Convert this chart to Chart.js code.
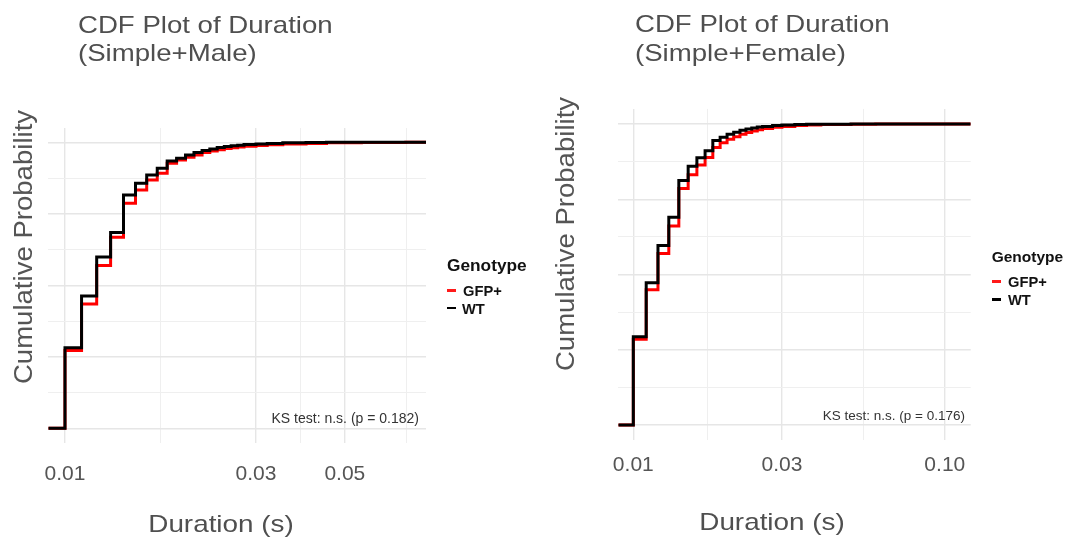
<!DOCTYPE html>
<html>
<head>
<meta charset="utf-8">
<title>CDF Plot of Duration</title>
<script src="https://cdn.jsdelivr.net/npm/chart.js@4.4.1/dist/chart.umd.min.js"></script>
<style>
  html, body { margin: 0; padding: 0; background: #fff; }
  body {
    width: 1067px; height: 538px; position: relative; overflow: hidden;
    font-family: "Liberation Sans", Arial, sans-serif;
  }
  canvas { position: absolute; top: 0; }
  .t { position: absolute; white-space: nowrap; line-height: 1; }

  .title {
    font-size: 24px; line-height: 28.4px; color: #4f4f4f;
    transform: scaleX(1.15); transform-origin: 0 0;
  }
  .ytitle {
    width: 400px; text-align: center; font-size: 26px; line-height: 26px; color: #555;
    transform: rotate(-90deg) scaleX(1.06); transform-origin: 50% 50%;
  }
  .xtitle {
    width: 300px; text-align: center; font-size: 24px; line-height: 24px; color: #4f4f4f;
    transform: scaleX(1.16); transform-origin: 50% 50%;
  }
  .ks { color: #333; text-align: right; }
  .lg-title { font-weight: bold; color: #111; transform-origin: 0 0; }
  .lg-item { font-weight: bold; font-size: 14px; color: #111; transform: scaleX(1.05); transform-origin: 0 0; }
  .key { position: absolute; height: 2.7px; width: 8.5px; }
</style>
</head>
<body>

<canvas id="maleChart" width="540" height="538" style="left:0"></canvas>
<canvas id="femaleChart" width="527" height="538" style="left:540px"></canvas>

<!-- panel titles -->
<div class="t title" style="left:78px;top:10.8px">CDF Plot of Duration<br>(Simple+Male)</div>
<div class="t title" style="left:635px;top:10.3px">CDF Plot of Duration<br>(Simple+Female)</div>

<!-- axis titles -->
<div class="t ytitle" style="left:-177px;top:234px">Cumulative Probability</div>
<div class="t ytitle" style="left:365px;top:221px">Cumulative Probability</div>
<div class="t xtitle" style="left:70.5px;top:512.2px">Duration (s)</div>
<div class="t xtitle" style="left:621.5px;top:509.7px">Duration (s)</div>

<!-- KS annotations -->
<div class="t ks" style="right:648px;top:410.6px;font-size:14px">KS test: n.s. (p = 0.182)</div>
<div class="t ks" style="right:102px;top:408.6px;font-size:13.5px">KS test: n.s. (p = 0.176)</div>

<!-- legends -->
<div class="t lg-title" style="left:446.7px;top:258px;font-size:16px;transform:scaleX(1.08)">Genotype</div>
<span class="key" style="left:447px;top:289.4px;background:#ff1a1a"></span>
<div class="t lg-item" style="left:462.7px;top:284px">GFP+</div>
<span class="key" style="left:447px;top:306.8px;background:#000"></span>
<div class="t lg-item" style="left:461.7px;top:301.6px">WT</div>

<div class="t lg-title" style="left:991.7px;top:248.9px;font-size:15.5px">Genotype</div>
<span class="key" style="left:992px;top:280px;background:#ff1a1a"></span>
<div class="t lg-item" style="left:1008.3px;top:274.9px">GFP+</div>
<span class="key" style="left:992px;top:298.2px;background:#000"></span>
<div class="t lg-item" style="left:1008px;top:293.1px">WT</div>

<script>
  // ── Data: durations (s) and ECDF value after each step ─────
  const maleDuration = [0.010, 0.011, 0.012, 0.013, 0.014, 0.015, 0.016, 0.017, 0.018, 0.019,
                        0.020, 0.021, 0.022, 0.023, 0.024, 0.025, 0.026, 0.027, 0.028, 0.030,
                        0.032, 0.035, 0.040, 0.045, 0.055, 0.071];
  const maleGFP = [0.272, 0.435, 0.569, 0.668, 0.787, 0.833, 0.868, 0.892, 0.927, 0.938,
                   0.948, 0.956, 0.964, 0.970, 0.974, 0.978, 0.981, 0.984, 0.986, 0.989,
                   0.991, 0.994, 0.996, 0.998, 0.999, 1.000];
  const maleWT  = [0.282, 0.463, 0.599, 0.685, 0.816, 0.857, 0.886, 0.909, 0.935, 0.944,
                   0.956, 0.964, 0.971, 0.977, 0.982, 0.985, 0.988, 0.990, 0.992, 0.994,
                   0.996, 0.998, 0.999, 1.000, 1.000, 1.000];
  const maleRange = [0.009085, 0.07975];
  const maleTicks = [0.01, 0.0173, 0.03, 0.0387, 0.05, 0.0712];
  const maleTickLabels = ['0.01', '', '0.03', '', '0.05', ''];

  const femaleDuration = [0.010, 0.011, 0.012, 0.013, 0.014, 0.015, 0.016, 0.017, 0.018, 0.019,
                          0.020, 0.021, 0.022, 0.023, 0.024, 0.025, 0.026, 0.028, 0.030, 0.033,
                          0.036, 0.040, 0.050, 0.060, 0.107];
  const femaleGFP = [0.285, 0.449, 0.570, 0.661, 0.786, 0.831, 0.864, 0.889, 0.922, 0.938,
                     0.949, 0.958, 0.966, 0.972, 0.977, 0.981, 0.985, 0.989, 0.992, 0.995,
                     0.997, 0.998, 0.999, 1.000, 1.000];
  const femaleWT  = [0.293, 0.473, 0.596, 0.690, 0.812, 0.860, 0.888, 0.911, 0.945, 0.956,
                     0.966, 0.973, 0.979, 0.983, 0.987, 0.990, 0.992, 0.995, 0.997, 0.998,
                     0.999, 0.999, 1.000, 1.000, 1.000];
  const femaleRange = [0.00895, 0.1211];
  const femaleTicks = [0.01, 0.0173, 0.03, 0.0548, 0.1];
  const femaleTickLabels = ['0.01', '', '0.03', '', '0.10'];

  const probTicks = [0, 0.125, 0.25, 0.375, 0.5, 0.625, 0.75, 0.875, 1];

  // ── ECDF points, padded to the axis limits like stat_ecdf ──
  function ecdfPoints(xs, ys, range) {
    return [{ x: range[0], y: 0 }]
      .concat(xs.map((x, i) => ({ x, y: ys[i] })))
      .concat([{ x: range[1], y: 1 }]);
  }

  const GRID_MAJOR = '#e6e6e6';
  const GRID_MINOR = '#efefef';

  function makeCdfChart(id, cfg) {
    return new Chart(document.getElementById(id), {
      type: 'line',
      data: {
        datasets: [
          {
            label: 'GFP+',
            data: ecdfPoints(cfg.x, cfg.gfp, cfg.range),
            borderColor: '#ff0000',
            order: 2,
          },
          {
            label: 'WT',
            data: ecdfPoints(cfg.x, cfg.wt, cfg.range),
            borderColor: '#000000',
            order: 1,
          },
        ].map(ds => Object.assign(ds, {
          stepped: true, borderWidth: 3, pointRadius: 0, fill: false, tension: 0,
        })),
      },
      options: {
        responsive: false,
        animation: false,
        events: [],
        layout: { padding: cfg.padding },
        plugins: {
          legend: { display: false },
          tooltip: { enabled: false },
          title: { display: false },
        },
        scales: {
          x: {
            type: 'logarithmic',
            min: cfg.range[0],
            max: cfg.range[1],
            afterBuildTicks: s => { s.ticks = cfg.ticks.map(v => ({ value: v })); },
            ticks: {
              callback: (v, i) => cfg.labels[i],
              autoSkip: false,
              maxRotation: 0,
              padding: cfg.tickPad,
              color: '#555',
              font: { family: '"Liberation Sans", Arial, sans-serif', size: 21 },
            },
            grid: {
              drawTicks: false,
              color: ctx => cfg.labels[ctx.index] ? GRID_MAJOR : GRID_MINOR,
              lineWidth: ctx => cfg.labels[ctx.index] ? 1.4 : 1,
            },
            border: { display: false },
          },
          y: {
            type: 'linear',
            min: -0.05,
            max: 1.05,
            afterBuildTicks: s => { s.ticks = probTicks.map(v => ({ value: v })); },
            ticks: { display: false },
            grid: {
              drawTicks: false,
              color: ctx => (ctx.tick.value * 4) % 1 === 0 ? GRID_MAJOR : GRID_MINOR,
              lineWidth: ctx => (ctx.tick.value * 4) % 1 === 0 ? 1.4 : 1,
            },
            border: { display: false },
          },
        },
      },
    });
  }

  makeCdfChart('maleChart', {
    x: maleDuration, gfp: maleGFP, wt: maleWT, range: maleRange,
    ticks: maleTicks, labels: maleTickLabels,
    padding: { left: 48.3, right: 114, top: 128, bottom: 31.6 },
    tickPad: 19.3,
  });

  makeCdfChart('femaleChart', {
    x: femaleDuration, gfp: femaleGFP, wt: femaleWT, range: femaleRange,
    ticks: femaleTicks, labels: femaleTickLabels,
    padding: { left: 78.3, right: 96.3, top: 108.95, bottom: 48.55 },
    tickPad: 12.1,
  });
</script>
</body>
</html>
